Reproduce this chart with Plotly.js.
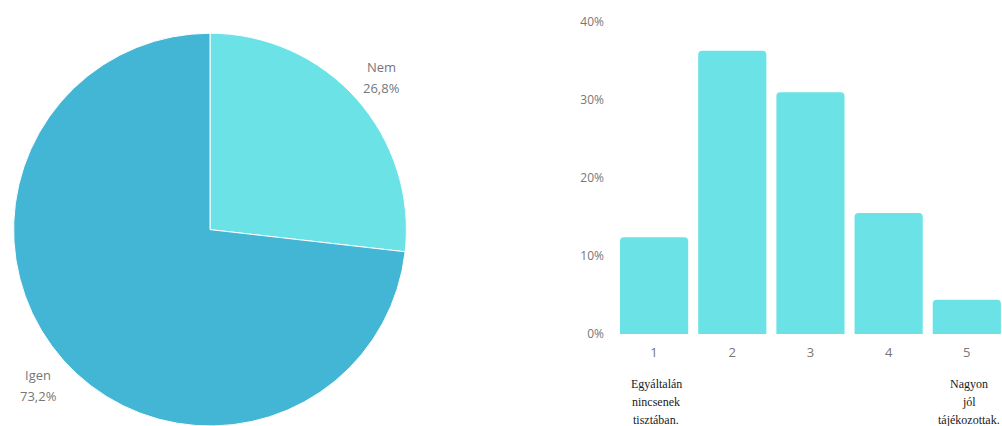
<!DOCTYPE html>
<html>
<head>
<meta charset="utf-8">
<script src="https://cdn.plot.ly/plotly-3.0.1.min.js"></script>
<style>html,body{margin:0;padding:0;background:#fff;}#chart{width:1002px;height:426px;}</style>
</head>
<body>
<div id="chart"></div>
<script>
const pieLabels = ["Nem", "Igen"];
const pieValues = [26.8, 73.2];
const pieColors = ["#6be3e6", "#43b6d5"];

const barCategories = ["1", "2", "3", "4", "5"];
const barValues = [12.4, 36.3, 31.0, 15.5, 4.4];
const barColor = "#6be3e6";
const yTicks = [0, 10, 20, 30, 40];
const endLabels = [["Egyáltalán", "nincsenek", "tisztában."], ["Nagyon", "jól", "tájékozottak."]];

const fmt = v => v.toFixed(1).replace('.', ',') + '%';

const pie = {
  type: 'pie',
  labels: pieLabels,
  values: pieValues,
  sort: false,
  direction: 'clockwise',
  rotation: 0,
  marker: {colors: pieColors, line: {color: '#ffffff', width: 1}},
  textinfo: 'none',
  hoverinfo: 'label+percent',
  domain: {x: [13/1002, 407/1002], y: [0, 0.922]},
  showlegend: false
};

const bar = {
  type: 'bar',
  x: barCategories,
  y: barValues,
  marker: {color: barColor},
  xaxis: 'x',
  yaxis: 'y',
  showlegend: false,
  hoverinfo: 'x+y'
};

const pieLabelPos = [{x: 381, y: 67}, {x: 38, y: 375}];
const annotations = [];
pieLabels.forEach((lab, i) => {
  [lab, fmt(pieValues[i])].forEach((line, li) => {
    annotations.push({
      xref: 'paper', yref: 'paper',
      x: pieLabelPos[i].x / 1002, y: 1 - (pieLabelPos[i].y + li * 21) / 426,
      text: line, showarrow: false, xanchor: 'center', yanchor: 'middle',
      font: {family: 'Open Sans, sans-serif', size: 13, color: '#777777'}
    });
  });
});

const labelCats = [0, 4];
labelCats.forEach((ci, k) => {
  endLabels[k].forEach((line, li) => {
    annotations.push({
      xref: 'x', yref: 'paper',
      x: ci + 0.03, y: 1 - (384 + li * 18) / 426,
      text: line, showarrow: false, xanchor: 'center', yanchor: 'middle',
      font: {family: 'Liberation Serif, Times New Roman, serif', size: 12, color: '#1a1a1a'}
    });
  });
});

const layout = {
  width: 1002, height: 426,
  margin: {l: 0, r: 0, t: 0, b: 0},
  paper_bgcolor: '#ffffff', plot_bgcolor: '#ffffff',
  separators: ',.',
  bargap: 0.128,
  barcornerradius: 4,
  xaxis: {
    domain: [615/1002, 1],
    range: [-0.5, 4.45],
    type: 'category',
    showgrid: false, zeroline: false, showline: false,
    ticks: '',
    tickfont: {family: 'Open Sans, sans-serif', size: 13, color: '#777777'},
    ticklabelstandoff: 9
  },
  yaxis: {
    domain: [1 - 334/426, 1 - 22/426],
    range: [0, 40],
    tickvals: yTicks,
    ticktext: yTicks.map(v => v + '%'),
    showgrid: false, zeroline: false, showline: false,
    ticks: '',
    tickfont: {family: 'Open Sans, sans-serif', size: 12, color: '#777777'},
    ticklabelstandoff: 10
  },
  annotations: annotations
};

Plotly.newPlot('chart', [pie, bar], layout, {displayModeBar: false, staticPlot: true});
</script>
</body>
</html>
